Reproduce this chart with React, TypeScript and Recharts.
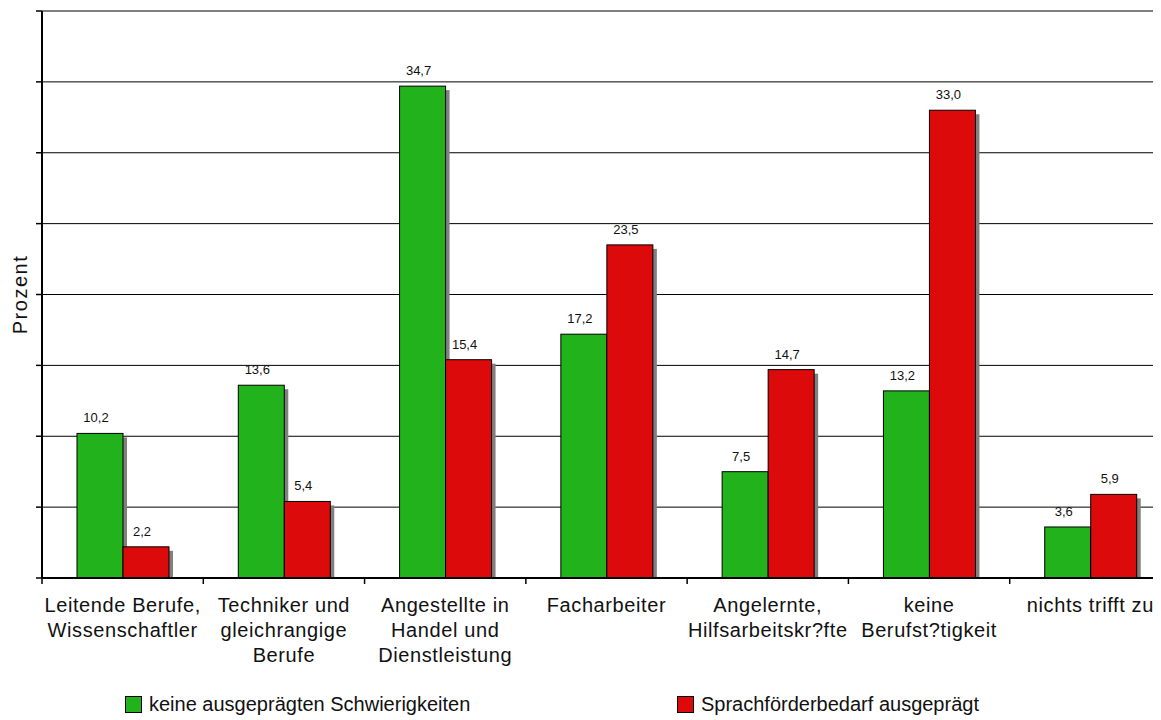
import React from "react";
import {
  BarChart,
  Bar,
  XAxis,
  YAxis,
  CartesianGrid,
  Legend,
  LabelList,
} from "recharts";

const categories = [
  "Leitende Berufe,\nWissenschaftler",
  "Techniker und\ngleichrangige\nBerufe",
  "Angestellte in\nHandel und\nDienstleistung",
  "Facharbeiter",
  "Angelernte,\nHilfsarbeitskr?fte",
  "keine\nBerufst?tigkeit",
  "nichts trifft zu",
];
const keineSchwierigkeiten = [10.2, 13.6, 34.7, 17.2, 7.5, 13.2, 3.6];
const sprachfoerderbedarf = [2.2, 5.4, 15.4, 23.5, 14.7, 33.0, 5.9];
const yTicks = [0, 5, 10, 15, 20, 25, 30, 35, 40];

const series = [
  { key: "gruen", name: "keine ausgeprägten Schwierigkeiten", color: "#22b21c" },
  { key: "rot", name: "Sprachförderbedarf ausgeprägt", color: "#dc0a0a" },
];

const data = categories.map((c, i) => ({
  name: c,
  gruen: keineSchwierigkeiten[i],
  rot: sprachfoerderbedarf[i],
}));

const FONT = "Arial, 'Liberation Sans', sans-serif";
const CHART_W = 1163;
const CHART_H = 712;
const PLOT_LEFT = 34;
const BAND = (CHART_W - PLOT_LEFT) / categories.length;

const fmt = (v: number) => v.toFixed(1).replace(".", ",");

function ShadowBar(props: any) {
  const { x, y, width, height, fill } = props;
  if (!height || height <= 0) return null;
  return (
    <g>
      <rect x={x + 4} y={y + 4} width={width} height={Math.max(0, height - 4)} fill="#808080" />
      <rect x={x} y={y} width={width} height={height} fill={fill} stroke="#000" strokeWidth={1} />
    </g>
  );
}

function CategoryTick(props: any) {
  const { x, y, payload, index } = props;
  const lines = String(payload.value).split("\n");
  const left = x - BAND / 2;
  return (
    <g>
      <line x1={left} x2={left} y1={y} y2={y + 6} stroke="#000" strokeWidth={1.5} />
      {index === categories.length - 1 && (
        <line x1={x + BAND / 2} x2={x + BAND / 2} y1={y} y2={y + 6} stroke="#000" strokeWidth={1.5} />
      )}
      <text
        x={x}
        y={y + 34}
        textAnchor="middle"
        fontSize={20}
        letterSpacing={0.6}
        fontFamily={FONT}
        fill="#111"
      >
        {lines.map((l, i) => (
          <tspan key={i} x={x} dy={i === 0 ? 0 : 25}>
            {l}
          </tspan>
        ))}
      </text>
    </g>
  );
}

function YLabel(props: any) {
  const vb = props.viewBox || { x: 0, y: 3, width: 34, height: 567 };
  const cx = 12;
  const cy = vb.y + vb.height / 2;
  return (
    <text
      x={cx}
      y={cy}
      transform={`rotate(-90 ${cx} ${cy})`}
      textAnchor="middle"
      dominantBaseline="central"
      fontSize={20}
      letterSpacing={1.5}
      fontFamily={FONT}
      fill="#111"
    >
      Prozent
    </text>
  );
}

function LegendBox() {
  const lefts = [117, 669];
  return (
    <div style={{ position: "relative", height: 30, fontFamily: FONT }}>
      {series.map((s, i) => (
        <div
          key={s.key}
          style={{
            position: "absolute",
            left: lefts[i],
            top: 0,
            display: "flex",
            alignItems: "center",
            whiteSpace: "nowrap",
          }}
        >
          <span
            style={{
              display: "inline-block",
              width: 15,
              height: 15,
              background: s.color,
              border: "1.5px solid #000",
              marginRight: 7,
            }}
          />
          <span style={{ fontSize: 20, color: "#111" }}>{s.name}</span>
        </div>
      ))}
    </div>
  );
}

export default function App() {
  return (
    <div style={{ width: 1153, height: CHART_H, overflow: "hidden" }}>
      <BarChart
        width={CHART_W}
        height={CHART_H}
        data={data}
        barSize={46}
        barGap={0}
        margin={{ top: 3, right: 0, left: 0, bottom: 42 }}
      >
        <CartesianGrid vertical={false} stroke="#000" strokeWidth={1} />
        <XAxis
          dataKey="name"
          height={100}
          interval={0}
          tickSize={0}
          tickMargin={0}
          tickLine={false}
          axisLine={{ stroke: "#000", strokeWidth: 2 }}
          tick={<CategoryTick />}
        />
        <YAxis
          width={PLOT_LEFT}
          domain={[0, 40]}
          ticks={yTicks}
          tickSize={6}
          tickFormatter={() => ""}
          axisLine={{ stroke: "#000", strokeWidth: 2 }}
          tickLine={{ stroke: "#000", strokeWidth: 1.5 }}
          label={YLabel}
        />
        <Legend
          verticalAlign="middle"
          align="center"
          layout="horizontal"
          content={<LegendBox />}
          wrapperStyle={{ left: 0, top: 685, width: 1153 }}
        />
        {series.map((s) => (
          <Bar
            key={s.key}
            dataKey={s.key}
            name={s.name}
            fill={s.color}
            shape={<ShadowBar />}
            isAnimationActive={false}
          >
            <LabelList
              dataKey={s.key}
              position="top"
              offset={11}
              dx={-4}
              formatter={(v: any) => fmt(Number(v))}
              style={{ fontSize: 13, fontFamily: FONT, fill: "#111" }}
            />
          </Bar>
        ))}
      </BarChart>
    </div>
  );
}
